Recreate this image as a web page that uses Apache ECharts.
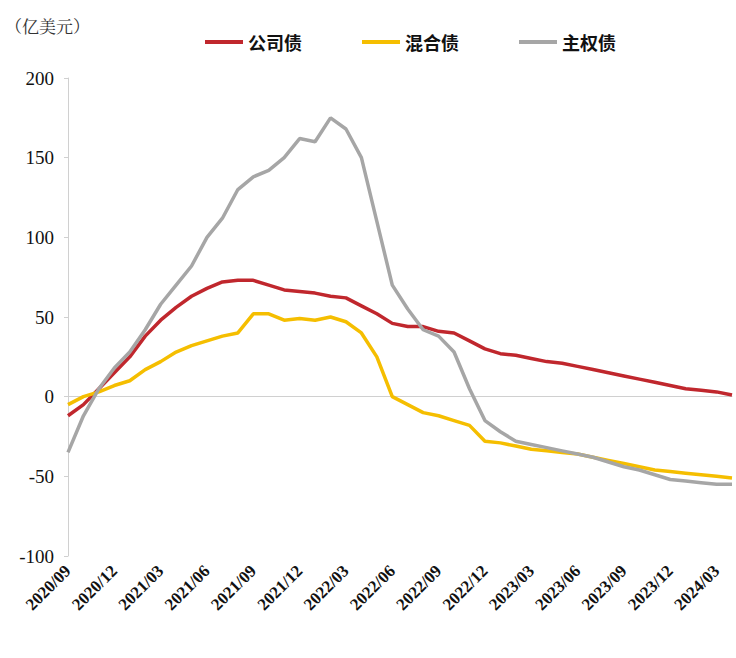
<!DOCTYPE html>
<html><head><meta charset="utf-8">
<script src="https://cdn.jsdelivr.net/npm/echarts@6/dist/echarts.min.js"></script>
<style>html,body{margin:0;background:#fff}#c{width:736px;height:658px}</style>
</head><body><div id="c"></div>
<script>
var months = [];
(function () {
  var y = 2020, m = 9;
  for (var i = 0; i < 44; i++) {
    months.push(y + '/' + (m < 10 ? '0' + m : m));
    m++; if (m > 12) { m = 1; y++; }
  }
})();
var corporate = [-12,-5,5,15,25,38,48,56,63,68,72,73,73,70,67,66,65,63,62,57,52,46,44,44,41,40,35,30,27,26,24,22,21,19,17,15,13,11,9,7,5,4,3,1];
var hybrid = [-5,0,3,7,10,17,22,28,32,35,38,40,52,52,48,49,48,50,47,40,25,0,-5,-10,-12,-15,-18,-28,-29,-31,-33,-34,-35,-36,-38,-40,-42,-44,-46,-47,-48,-49,-50,-51];
var sovereign = [-35,-12,5,18,28,42,58,70,82,100,112,130,138,142,150,162,160,175,168,150,110,70,55,42,38,28,5,-15,-22,-28,-30,-32,-34,-36,-38,-41,-44,-46,-49,-52,-53,-54,-55,-55];

var chart = echarts.init(document.getElementById('c'), null, { renderer: 'svg' });
var serif = '"Liberation Serif", "Noto Sans CJK SC", serif';
chart.setOption({
  animation: false,
  color: ['#C0272D', '#F5BE00', '#A6A6A6'],
  title: { text: '（亿美元）', left: 0, top: 12, textStyle: { fontSize: 17, fontWeight: 'normal', color: '#333', fontFamily: '"Noto Serif CJK SC", "Noto Sans CJK SC"' } },
  legend: {
    top: 28, left: 200, itemGap: 60, itemWidth: 38, itemHeight: 4,
    icon: 'rect',
    textStyle: { fontSize: 18, fontWeight: 'bold', color: '#111', fontFamily: '"Noto Sans CJK SC"' }
  },
  grid: { left: 68, right: 4, top: 78, bottom: 102, containLabel: false },
  xAxis: {
    type: 'category', data: months, boundaryGap: false,
    axisLine: { lineStyle: { color: '#d0d0d0' } },
    axisTick: { show: false },
    axisLabel: { interval: 2, rotate: 45, fontSize: 17, fontWeight: 'bold', color: '#111', fontFamily: serif, margin: 12 }
  },
  yAxis: {
    type: 'value', min: -100, max: 200, interval: 50,
    axisLine: { show: true, lineStyle: { color: '#d0d0d0' } },
    axisTick: { show: true, length: 4, lineStyle: { color: '#d0d0d0' } },
    splitLine: { show: false },
    axisLabel: { fontSize: 19, color: '#111', fontFamily: serif, margin: 14 }
  },
  series: [
    { name: '公司债', type: 'line', data: corporate, showSymbol: false, lineStyle: { width: 3.5 } },
    { name: '混合债', type: 'line', data: hybrid, showSymbol: false, lineStyle: { width: 3.5 } },
    { name: '主权债', type: 'line', data: sovereign, showSymbol: false, lineStyle: { width: 3.5 } }
  ]
});
</script></body></html>
